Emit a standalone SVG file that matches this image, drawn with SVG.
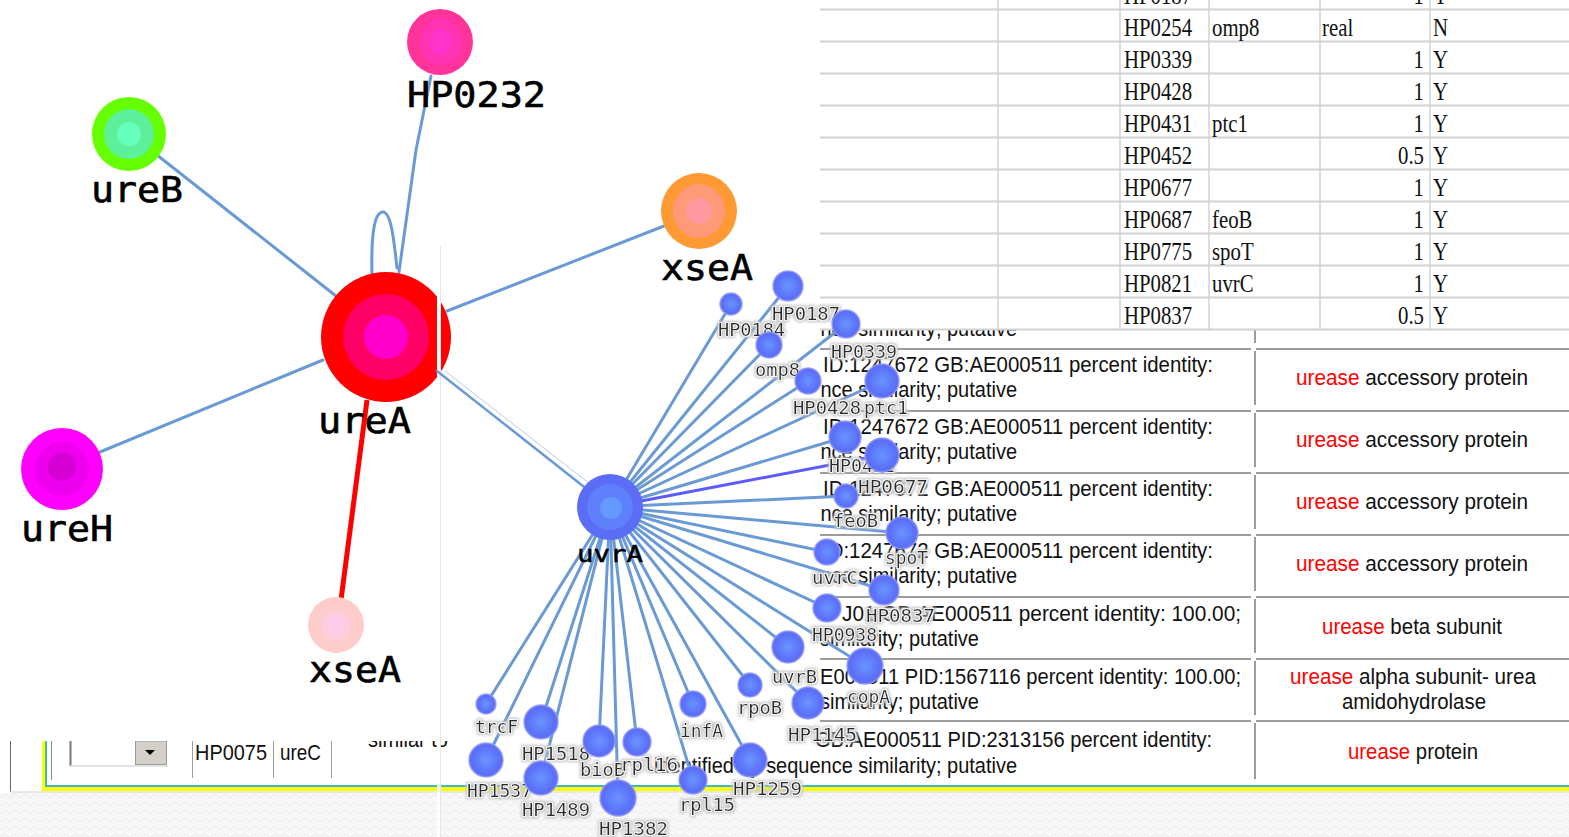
<svg xmlns="http://www.w3.org/2000/svg" width="1569" height="837" viewBox="0 0 1569 837">
<defs>
<style>
.tbl{font-family:"Liberation Sans",Arial,sans-serif;font-size:22px;fill:#111;}
.sh{font-family:"Liberation Serif","Times New Roman",serif;font-size:26px;fill:#111;}
.big{font-family:"DejaVu Sans Mono",monospace;font-size:36px;fill:#000;stroke:#000;stroke-width:0.6px;}
.mid{font-family:"DejaVu Sans Mono",monospace;font-size:23px;fill:#000;stroke:#000;stroke-width:0.5px;}
.sm{font-family:"DejaVu Sans Mono",monospace;font-size:18px;fill:#2b2b2b;filter:url(#halo);}
.red{fill:#ff0000;}
.e{stroke:#6a9ad6;stroke-width:3;stroke-linecap:round;fill:none;}
.bn{fill:url(#blueNode);stroke:#8d97fb;stroke-width:1.5;stroke-opacity:0.8;}
.grid{stroke:#d2d2d2;fill:none;}
.cell{stroke:#9c9c9c;stroke-width:2;fill:none;}
</style>
<pattern id="mesh" width="10" height="8" patternUnits="userSpaceOnUse">
<rect width="10" height="8" fill="#f7f7f7"/>
<path d="M0 6 L5 2 L10 6" stroke="#ebebeb" fill="none"/>
</pattern>
<radialGradient id="blueNode" cx="0.5" cy="0.5" r="0.5">
<stop offset="0" stop-color="#6a94ff"/>
<stop offset="0.5" stop-color="#607efc"/>
<stop offset="0.85" stop-color="#5b6ef7"/>
<stop offset="1" stop-color="#6a76f2"/>
</radialGradient>
<filter id="halo" x="-20%" y="-50%" width="140%" height="200%">
<feMorphology in="SourceAlpha" operator="dilate" radius="2" result="d"/>
<feGaussianBlur in="d" stdDeviation="1.4" result="b"/>
<feFlood flood-color="#c2c2c2"/>
<feComposite in2="b" operator="in" result="g"/>
<feMorphology in="SourceAlpha" operator="dilate" radius="0.8" result="d2"/>
<feFlood flood-color="#f4f4f4"/>
<feComposite in2="d2" operator="in" result="w"/>
<feMerge><feMergeNode in="g"/><feMergeNode in="w"/><feMergeNode in="SourceGraphic"/></feMerge>
</filter>
</defs>

<!-- page background -->
<rect width="1569" height="837" fill="#ffffff"/>
<rect x="0" y="793" width="1569" height="44" fill="url(#mesh)"/>

<!-- web table with gene descriptions -->
<g id="web-table">
<path class="cell" d="M820 349H1251M1256 349H1569M820 411H1251M1256 411H1569M820 473H1251M1256 473H1569M820 535H1251M1256 535H1569M820 597H1251M1256 597H1569M820 659H1251M1256 659H1569M820 721H1251M1256 721H1569"/>
<path class="cell" d="M1255 330V343M1255 351V405M1255 413V467M1255 475V529M1255 537V591M1255 599V653M1255 661V715M1255 723V779"/>
<g class="tbl" text-anchor="end">
<text x="1017" y="336" textLength="251" lengthAdjust="spacingAndGlyphs">sequence similarity; putative</text>
<text x="1213" y="372" textLength="390" lengthAdjust="spacingAndGlyphs">ID:1247672 GB:AE000511 percent identity:</text>
<text x="1017" y="397" textLength="251" lengthAdjust="spacingAndGlyphs">sequence similarity; putative</text>
<text x="1213" y="434" textLength="390" lengthAdjust="spacingAndGlyphs">ID:1247672 GB:AE000511 percent identity:</text>
<text x="1017" y="459" textLength="251" lengthAdjust="spacingAndGlyphs">sequence similarity; putative</text>
<text x="1213" y="496" textLength="390" lengthAdjust="spacingAndGlyphs">ID:1247672 GB:AE000511 percent identity:</text>
<text x="1017" y="521" textLength="251" lengthAdjust="spacingAndGlyphs">sequence similarity; putative</text>
<text x="1213" y="558" textLength="390" lengthAdjust="spacingAndGlyphs">ID:1247672 GB:AE000511 percent identity:</text>
<text x="1017" y="583" textLength="251" lengthAdjust="spacingAndGlyphs">sequence similarity; putative</text>
<text x="1241" y="621" textLength="399" lengthAdjust="spacingAndGlyphs">J01 GB:AE000511 percent identity: 100.00;</text>
<text x="979" y="646" textLength="159" lengthAdjust="spacingAndGlyphs">similarity; putative</text>
<text x="1241" y="684" textLength="469" lengthAdjust="spacingAndGlyphs">GB:AE000511 PID:1567116 percent identity: 100.00;</text>
<text x="979" y="709" textLength="159" lengthAdjust="spacingAndGlyphs">similarity; putative</text>
<text x="1212" y="747" textLength="397" lengthAdjust="spacingAndGlyphs">GB:AE000511 PID:2313156 percent identity:</text>
<text x="1017" y="773" textLength="363" lengthAdjust="spacingAndGlyphs">identified by sequence similarity; putative</text>
</g>
<text class="tbl" x="368" y="747" textLength="80" lengthAdjust="spacingAndGlyphs">similar to</text>
<g class="tbl" text-anchor="middle">
<text x="1412" y="385" textLength="232" lengthAdjust="spacingAndGlyphs"><tspan class="red">urease</tspan> accessory protein</text>
<text x="1412" y="447" textLength="232" lengthAdjust="spacingAndGlyphs"><tspan class="red">urease</tspan> accessory protein</text>
<text x="1412" y="509" textLength="232" lengthAdjust="spacingAndGlyphs"><tspan class="red">urease</tspan> accessory protein</text>
<text x="1412" y="571" textLength="232" lengthAdjust="spacingAndGlyphs"><tspan class="red">urease</tspan> accessory protein</text>
<text x="1412" y="634" textLength="180" lengthAdjust="spacingAndGlyphs"><tspan class="red">urease</tspan> beta subunit</text>
<text x="1413" y="684" textLength="246" lengthAdjust="spacingAndGlyphs"><tspan class="red">urease</tspan> alpha subunit- urea</text>
<text x="1414" y="709" textLength="144" lengthAdjust="spacingAndGlyphs">amidohydrolase</text>
<text x="1413" y="759" textLength="130" lengthAdjust="spacingAndGlyphs"><tspan class="red">urease</tspan> protein</text>
</g>
<!-- first cells of the last row -->
<line x1="10.5" y1="741" x2="10.5" y2="792" stroke="#666"/>
<line x1="51.5" y1="741" x2="51.5" y2="780" stroke="#888"/>
<rect x="70" y="741" width="97" height="25" fill="#fff"/>
<path d="M70.5 741V766" stroke="#777" stroke-width="2"/>
<path d="M70 766H168" stroke="#d8d8d8" stroke-width="1.5"/>
<rect x="135.5" y="741" width="31" height="23.5" fill="#d4d0c8" stroke="#9a9a9a"/>
<path d="M145 750h10l-5 5z" fill="#000"/>
<path d="M192.5 741V778M273.5 741V778M331.5 741V778" stroke="#9c9c9c"/>
<text class="tbl" x="195" y="760" textLength="72" lengthAdjust="spacingAndGlyphs">HP0075</text>
<text class="tbl" x="280" y="760" textLength="41" lengthAdjust="spacingAndGlyphs">ureC</text>
<!-- table frame -->
<rect x="42" y="741" width="3" height="50" fill="#ffff00"/>
<rect x="42" y="787" width="1527" height="4" fill="#ffff00"/>
<rect x="45" y="741" width="2" height="46" fill="#3cb8cc"/>
<rect x="45" y="785" width="1524" height="2" fill="#3cb8cc"/>
<line x1="10" y1="792" x2="1569" y2="792" stroke="#d0d0d0"/>
</g>

<!-- ureA interaction graph -->
<g id="ureA-graph">
<rect x="0" y="0" width="820" height="741" fill="#ffffff"/>
<g id="connectors-ureA">
<line class="e" x1="157" y1="155" x2="336" y2="296" stroke-width="2.5"/>
<path class="e" d="M431 76 L416 150 L399 272" stroke-width="3.5"/>
<path class="e" d="M372 276 C371 236 374 212 383 212 C391 212 394 240 397 268" stroke-width="3.5"/>
<line class="e" x1="664" y1="226" x2="447" y2="311" stroke-width="3.5"/>
<line class="e" x1="100" y1="452" x2="323" y2="360" stroke-width="3.5"/>
<line x1="367" y1="400" x2="341" y2="600" stroke="#ff0000" stroke-width="5"/>
</g>
<g id="node-HP0232">
<circle cx="440" cy="42" r="33" fill="#ff3399"/>
<ellipse cx="441" cy="42" rx="21" ry="24" fill="#ff33b3"/>
<ellipse cx="441" cy="42" rx="11" ry="13" fill="#ff33cc"/>
<text class="big" x="407" y="107" textLength="139" lengthAdjust="spacingAndGlyphs">HP0232</text>
</g>
<g id="node-ureB">
<circle cx="129" cy="134" r="37" fill="#66ff00"/>
<circle cx="129" cy="134" r="25" fill="#5cf09a"/>
<circle cx="129" cy="134" r="12" fill="#66ffbb"/>
<text class="big" x="91" y="202" textLength="92" lengthAdjust="spacingAndGlyphs">ureB</text>
</g>
<g id="node-xseA-1">
<circle cx="699" cy="211" r="38" fill="#ff9933"/>
<ellipse cx="699" cy="211" rx="26" ry="27" fill="#ff9977"/>
<circle cx="699" cy="211" r="13" fill="#ff99a0"/>
<text class="big" x="661" y="280" textLength="92" lengthAdjust="spacingAndGlyphs">xseA</text>
</g>
<g id="node-ureA">
<circle cx="386" cy="337" r="65" fill="#ff0000"/>
<circle cx="386" cy="337" r="43" fill="#ff0066"/>
<circle cx="386" cy="337" r="22" fill="#ff00cc"/>
<text class="big" x="318" y="433" textLength="93" lengthAdjust="spacingAndGlyphs">ureA</text>
</g>
<g id="node-ureH">
<circle cx="62" cy="469" r="41" fill="#ff00ff"/>
<circle cx="62" cy="469" r="27" fill="#ee00ee"/>
<circle cx="62" cy="467" r="14" fill="#d400d4"/>
<text class="big" x="21" y="541" textLength="92" lengthAdjust="spacingAndGlyphs">ureH</text>
</g>
<g id="node-xseA-2">
<circle cx="336" cy="625" r="28" fill="#ffcccc"/>
<circle cx="336" cy="625" r="15" fill="#ffcce0"/>
<circle cx="336" cy="625" r="7" fill="#ffccee"/>
<text class="big" x="309" y="682" textLength="92" lengthAdjust="spacingAndGlyphs">xseA</text>
</g>
</g>

<!-- spreadsheet of partners -->
<g id="sheet">
<rect x="820" y="0" width="749" height="330" fill="#ffffff"/>
<path class="grid" stroke-width="2" d="M820 9.5H1569M820 41.5H1569M820 73.5H1569M820 105.5H1569M820 137.5H1569M820 169.5H1569M820 201.5H1569M820 233.5H1569M820 265.5H1569M820 297.5H1569M820 329.5H1569"/>
<path class="grid" stroke-width="1.5" d="M998 0V329M1120 0V329M1209 0V329M1320 0V329M1430 0V329"/>
<g class="sh">
<g transform="translate(1124 0) scale(0.8 1)">
<text y="4">HP0187</text><text y="36">HP0254</text><text y="68">HP0339</text><text y="100">HP0428</text><text y="132">HP0431</text><text y="164">HP0452</text><text y="196">HP0677</text><text y="228">HP0687</text><text y="260">HP0775</text><text y="292">HP0821</text><text y="324">HP0837</text>
</g>
<g transform="translate(1212 0) scale(0.8 1)">
<text y="36">omp8</text><text y="132">ptc1</text><text y="228">feoB</text><text y="260">spoT</text><text y="292">uvrC</text>
</g>
<g transform="translate(1322 0) scale(0.8 1)">
<text y="36">real</text>
</g>
<g transform="translate(1424 0) scale(0.8 1)" text-anchor="end">
<text y="4">1</text><text y="68">1</text><text y="100">1</text><text y="132">1</text><text y="164">0.5</text><text y="196">1</text><text y="228">1</text><text y="260">1</text><text y="292">1</text><text y="324">0.5</text>
</g>
<g transform="translate(1433 0) scale(0.8 1)">
<text y="4">Y</text><text y="36">N</text><text y="68">Y</text><text y="100">Y</text><text y="132">Y</text><text y="164">Y</text><text y="196">Y</text><text y="228">Y</text><text y="260">Y</text><text y="292">Y</text><text y="324">Y</text>
</g>
</g>
</g>

<!-- uvrA interaction graph -->
<g id="uvrA-graph">
<rect x="437" y="246" width="3" height="591" fill="#ffffff"/>
<line x1="440.5" y1="246" x2="440.5" y2="837" stroke="#e6e6e6"/>
<g id="connectors-uvrA" class="e">
<line x1="437" y1="371" x2="588" y2="490" stroke-width="2.5"/>
<line x1="445" y1="371" x2="590" y2="484" stroke="#b4cdef" stroke-width="1"/>
<line x1="610" y1="507" x2="731" y2="304"/>
<line x1="610" y1="507" x2="788" y2="286"/>
<line x1="610" y1="507" x2="769" y2="345"/>
<line x1="610" y1="507" x2="846" y2="324"/>
<line x1="610" y1="507" x2="808" y2="381"/>
<line x1="610" y1="507" x2="882" y2="381"/>
<line x1="610" y1="507" x2="845" y2="437"/>
<line x1="610" y1="507" x2="882" y2="455" stroke="#5b5bff"/>
<line x1="610" y1="507" x2="846" y2="496"/>
<line x1="610" y1="507" x2="902" y2="533"/>
<line x1="610" y1="507" x2="827" y2="552"/>
<line x1="610" y1="507" x2="884" y2="590"/>
<line x1="610" y1="507" x2="827" y2="608"/>
<line x1="610" y1="507" x2="788" y2="647"/>
<line x1="610" y1="507" x2="865" y2="666"/>
<line x1="610" y1="507" x2="750" y2="685"/>
<line x1="610" y1="507" x2="808" y2="703"/>
<line x1="610" y1="507" x2="693" y2="704"/>
<line x1="610" y1="507" x2="486" y2="704"/>
<line x1="610" y1="507" x2="541" y2="722"/>
<line x1="610" y1="507" x2="599" y2="741"/>
<line x1="610" y1="507" x2="637" y2="742"/>
<line x1="610" y1="507" x2="486" y2="760"/>
<line x1="610" y1="507" x2="541" y2="778"/>
<line x1="610" y1="507" x2="618" y2="798"/>
<line x1="610" y1="507" x2="693" y2="780"/>
<line x1="610" y1="507" x2="750" y2="760"/>
</g>
<g id="node-uvrA">
<circle cx="610" cy="507" r="33" fill="#5b6cf6"/>
<circle cx="610" cy="507" r="23" fill="#5f80fb"/>
<circle cx="611" cy="508" r="11" fill="#6699ff"/>
<text class="mid" x="577" y="562" textLength="66" lengthAdjust="spacingAndGlyphs">uvrA</text>
</g>
<g id="node-HP0184"><circle class="bn" cx="731" cy="304" r="11"/><text class="sm" x="718" y="336" textLength="67" lengthAdjust="spacingAndGlyphs">HP0184</text></g>
<g id="node-HP0187"><circle class="bn" cx="788" cy="286" r="15"/><text class="sm" x="772" y="320" textLength="68" lengthAdjust="spacingAndGlyphs">HP0187</text></g>
<g id="node-omp8"><circle class="bn" cx="769" cy="345" r="13"/><text class="sm" x="755" y="376" textLength="45" lengthAdjust="spacingAndGlyphs">omp8</text></g>
<g id="node-HP0339"><circle class="bn" cx="846" cy="324" r="14"/><text class="sm" x="831" y="358" textLength="66" lengthAdjust="spacingAndGlyphs">HP0339</text></g>
<g id="node-HP0428"><circle class="bn" cx="808" cy="381" r="13"/><text class="sm" x="793" y="414" textLength="68" lengthAdjust="spacingAndGlyphs">HP0428</text></g>
<g id="node-ptc1"><circle class="bn" cx="882" cy="381" r="17"/><text class="sm" x="864" y="414" textLength="44" lengthAdjust="spacingAndGlyphs">ptc1</text></g>
<g id="node-HP0452"><circle class="bn" cx="845" cy="437" r="16"/><text class="sm" x="829" y="472" textLength="66" lengthAdjust="spacingAndGlyphs">HP0452</text></g>
<g id="node-HP0677"><circle class="bn" cx="882" cy="455" r="17"/><text class="sm" x="858" y="493" textLength="70" lengthAdjust="spacingAndGlyphs">HP0677</text></g>
<g id="node-feoB"><circle class="bn" cx="846" cy="496" r="12"/><text class="sm" x="833" y="527" textLength="45" lengthAdjust="spacingAndGlyphs">feoB</text></g>
<g id="node-spoT"><circle class="bn" cx="902" cy="533" r="16"/><text class="sm" x="885" y="564" textLength="43" lengthAdjust="spacingAndGlyphs">spoT</text></g>
<g id="node-uvrC"><circle class="bn" cx="827" cy="552" r="13"/><text class="sm" x="812" y="584" textLength="46" lengthAdjust="spacingAndGlyphs">uvrC</text></g>
<g id="node-HP0837"><circle class="bn" cx="884" cy="590" r="15"/><text class="sm" x="866" y="622" textLength="69" lengthAdjust="spacingAndGlyphs">HP0837</text></g>
<g id="node-HP0938"><circle class="bn" cx="827" cy="608" r="14"/><text class="sm" x="812" y="641" textLength="65" lengthAdjust="spacingAndGlyphs">HP0938</text></g>
<g id="node-uvrB"><circle class="bn" cx="788" cy="647" r="16"/><text class="sm" x="772" y="683" textLength="45" lengthAdjust="spacingAndGlyphs">uvrB</text></g>
<g id="node-copA"><circle class="bn" cx="865" cy="666" r="18"/><text class="sm" x="847" y="703" textLength="43" lengthAdjust="spacingAndGlyphs">copA</text></g>
<g id="node-rpoB"><circle class="bn" cx="750" cy="685" r="12"/><text class="sm" x="737" y="714" textLength="45" lengthAdjust="spacingAndGlyphs">rpoB</text></g>
<g id="node-HP1145"><circle class="bn" cx="808" cy="703" r="16"/><text class="sm" x="788" y="741" textLength="69" lengthAdjust="spacingAndGlyphs">HP1145</text></g>
<g id="node-infA"><circle class="bn" cx="693" cy="704" r="13"/><text class="sm" x="680" y="737" textLength="43" lengthAdjust="spacingAndGlyphs">infA</text></g>
<g id="node-trcF"><circle class="bn" cx="486" cy="704" r="10"/><text class="sm" x="475" y="733" textLength="43" lengthAdjust="spacingAndGlyphs">trcF</text></g>
<g id="node-HP1518"><circle class="bn" cx="541" cy="722" r="17"/><text class="sm" x="522" y="760" textLength="68" lengthAdjust="spacingAndGlyphs">HP1518</text></g>
<g id="node-bioB"><circle class="bn" cx="599" cy="741" r="16"/><text class="sm" x="580" y="776" textLength="45" lengthAdjust="spacingAndGlyphs">bioB</text></g>
<g id="node-rpl16"><circle class="bn" cx="637" cy="742" r="14"/><text class="sm" x="620" y="771" textLength="58" lengthAdjust="spacingAndGlyphs">rpl16</text></g>
<g id="node-HP1537"><circle class="bn" cx="486" cy="760" r="17"/><text class="sm" x="467" y="797" textLength="65" lengthAdjust="spacingAndGlyphs">HP1537</text></g>
<g id="node-HP1489"><circle class="bn" cx="541" cy="778" r="17"/><text class="sm" x="522" y="816" textLength="68" lengthAdjust="spacingAndGlyphs">HP1489</text></g>
<g id="node-HP1382"><circle class="bn" cx="618" cy="798" r="18"/><text class="sm" x="599" y="835" textLength="69" lengthAdjust="spacingAndGlyphs">HP1382</text></g>
<g id="node-rpl15"><circle class="bn" cx="693" cy="780" r="14"/><text class="sm" x="679" y="811" textLength="56" lengthAdjust="spacingAndGlyphs">rpl15</text></g>
<g id="node-HP1259"><circle class="bn" cx="750" cy="760" r="17"/><text class="sm" x="733" y="795" textLength="69" lengthAdjust="spacingAndGlyphs">HP1259</text></g>
</g>
</svg>
